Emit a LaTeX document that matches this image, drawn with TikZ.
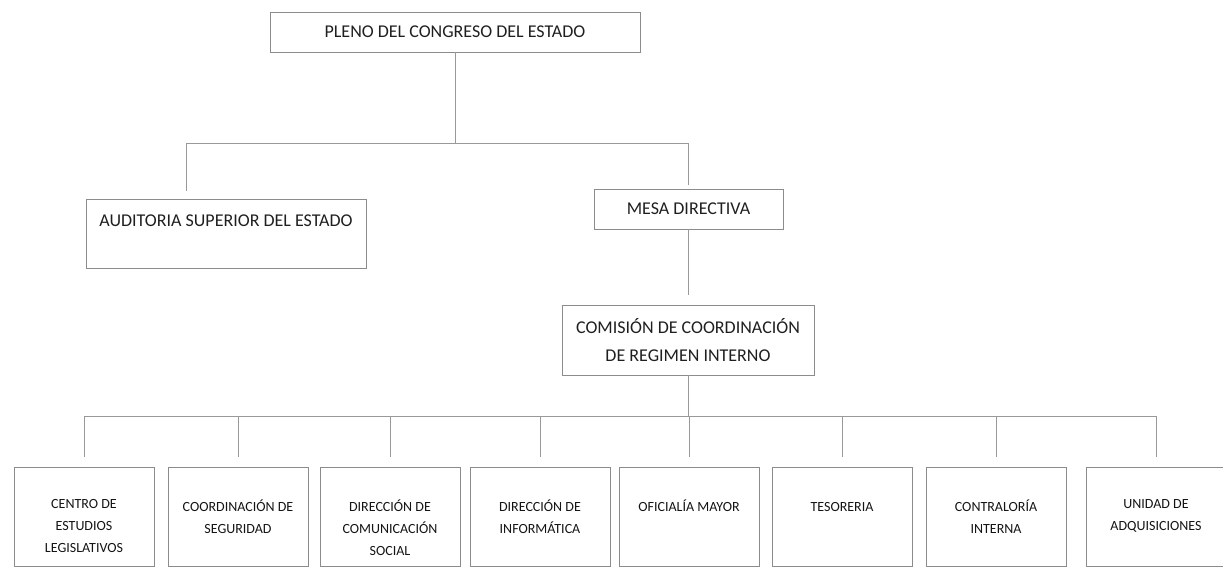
\documentclass[tikz,border=0pt]{standalone}
\usepackage{fontspec}
\setmainfont{Carlito}
\usepackage{tikz}
\usetikzlibrary{positioning}

\tikzset{
  orgbox/.style={draw=black!45,line width=0.8pt,inner sep=0pt,text=black!88,
                 font=\fontsize{18}{28}\selectfont,align=center},
  unitbox/.style={draw=black!45,line width=0.8pt,inner sep=0pt,
                  minimum width=140pt,minimum height=99pt},
  unittext/.style={inner sep=0pt,align=center,text=black!92,
                   font=\fontsize{14}{22}\selectfont,
                   execute at begin node={\rule{0pt}{12pt}}},
  wire/.style={draw=black!40,line width=0.8pt},
}

\begin{document}
\begin{tikzpicture}[x=1pt,y=-1pt]
 \useasboundingbox (0,0) rectangle (1223,567);
 % upper levels
 \node[orgbox,minimum width=370pt,minimum height=40pt] (pleno) at (455,32) {PLENO DEL CONGRESO DEL ESTADO};
 \node[orgbox,minimum width=280pt,text height=27pt,text depth=42pt] (auditoria) at (226,233.5) {AUDITORIA SUPERIOR DEL ESTADO};
 \node[orgbox,minimum width=189pt,minimum height=40pt] (mesa) at (688.5,209) {MESA DIRECTIVA};
 \node[orgbox,minimum width=252pt,minimum height=70pt] (comision) at (688,340) {COMISIÓN DE COORDINACIÓN\\DE REGIMEN INTERNO};
 \coordinate (bus1) at (0,143);
 \coordinate (audin) at (186,199);
 \coordinate (bus2) at (0,416);

 \draw[wire] (pleno.south) -- (pleno.south |- bus1);
 \draw[wire] (audin |- bus1) -- (comision.north |- bus1);
 \draw[wire,shorten >=8pt] (audin |- bus1) -- (audin);
 \draw[wire,shorten >=4pt] (comision.north |- bus1) -- (comision.north |- mesa.north);
 \draw[wire,shorten >=10pt] (comision.north |- mesa.south) -- (comision.north);
 \draw[wire] (comision.south) -- (comision.south |- bus2);

 % units
 \foreach \nm/\cx/\txt in {u1/84/{CENTRO DE\\ESTUDIOS\\LEGISLATIVOS},
                           u2/238/{COORDINACIÓN DE\\SEGURIDAD},
                           u3/390/{DIRECCIÓN DE\\COMUNICACIÓN\\SOCIAL},
                           u4/540/{DIRECCIÓN DE\\INFORMÁTICA},
                           u5/689/{OFICIALÍA MAYOR},
                           u6/842/{TESORERIA},
                           u7/996/{CONTRALORÍA\\INTERNA},
                           u8/1156/{UNIDAD DE\\ADQUISICIONES}}{
   \node[unitbox] (\nm) at (\cx,516.5) {};
   \node[unittext,below=33pt of \nm.north] (\nm t) {\txt};
   \draw[wire,shorten >=10pt] (\nm.north |- bus2) -- (\nm.north);
 }
 \draw[wire] (u1.north |- bus2) -- (u8.north |- bus2);
\end{tikzpicture}
\end{document}
